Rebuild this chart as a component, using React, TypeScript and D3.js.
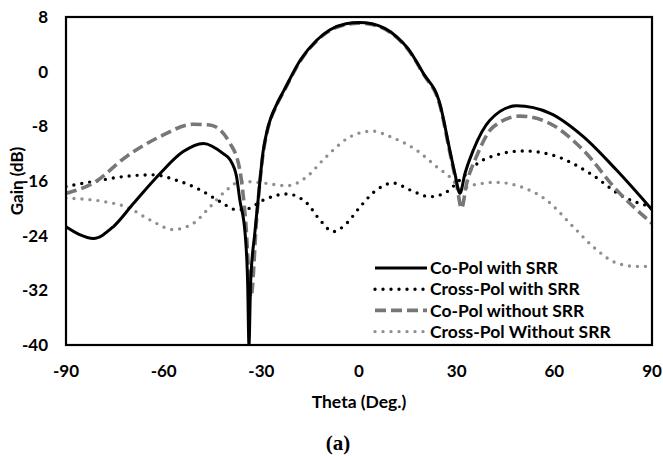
import React from 'react';
import * as d3 from 'd3';

// theta (deg) values
const coPolSrrTheta = [-90, -86, -81.6, -75.5, -69.3, -61.1, -54, -47.8, -41.7, -39.6, -37.6, -36.6, -35, -34.2, -33.8, -33.3, -32, -31, -29.4, -28.4, -25, -23, -18, -13, -9, -4, 0, 4, 11.6, 15, 19.7, 24.9, 27.9, 29.5, 31, 32.5, 35.1, 40.2, 48.4, 58.7, 68.9, 79.1, 90];
const coPolSrr = [-22.7, -23.8, -24.4, -22.7, -19.3, -14.9, -11.7, -10.5, -12, -12.9, -15.4, -18.8, -23.6, -31, -40, -31, -23.6, -18.8, -11.5, -9, -4.5, -2.7, 1.7, 4.6, 6.1, 7.0, 7.2, 7.0, 5.1, 3.4, -0.2, -4.8, -11.5, -15, -17.8, -15, -11.5, -7.1, -5.0, -6.1, -9.5, -14.4, -20.2];

const crossPolSrrTheta = [-90, -79.6, -71.4, -63.2, -56, -48.8, -42.7, -37.6, -34.5, -29.4, -22.2, -16.1, -12, -7.9, -3.8, 0.3, 5.4, 10.5, 15.6, 21.8, 26.9, 30, 32, 38.2, 50.5, 60.7, 71, 81.2, 90];
const crossPolSrr = [-16.8, -15.9, -15.3, -15.1, -15.9, -17.3, -19, -20.2, -20.1, -18.8, -17.9, -19.2, -21.7, -23.4, -22.2, -19.8, -17.3, -16.3, -17.3, -18.3, -17.6, -16.3, -15.4, -12.9, -11.6, -12.4, -14.9, -18.3, -19.8];

const coPolTheta = [-90, -81.6, -71.4, -61.1, -50.9, -45.8, -39.6, -36.6, -34.8, -33.2, -31.4, -29.4, -28.4, -25, -23, -18, -13, -9, -4, 0, 4, 11.6, 15, 19.7, 24.9, 27.9, 30, 31.5, 33, 36.1, 41.2, 49.4, 58.7, 68.9, 79.1, 90];
const coPol = [-17.8, -16.3, -12.4, -9.5, -7.7, -7.8, -10.5, -14.4, -22, -33, -21.2, -11.8, -9.2, -4.6, -2.8, 1.6, 4.5, 6.0, 6.9, 7.1, 6.9, 5.0, 3.3, -0.3, -5.0, -11.8, -16.5, -20, -16.5, -12.4, -8.1, -6.5, -7.6, -11.5, -17.3, -22.2];

const crossPolTheta = [-90, -78.5, -71.4, -64.2, -57.1, -50.9, -45.8, -40.6, -36.6, -34.5, -29.4, -22.2, -16.1, -11, -8, -3, 4, 10, 17.7, 23.8, 28.9, 31, 35, 42.3, 49.4, 57.6, 65.8, 71.9, 79.1, 85, 90];
const crossPol = [-18.5, -19, -19.8, -21.7, -23.1, -22.2, -19.8, -17.3, -16.1, -16.1, -16.3, -16.7, -15.4, -12.9, -11.5, -9.6, -8.7, -9.6, -11.5, -13.9, -15.9, -17.2, -16.6, -16.2, -16.8, -18.8, -22.7, -25.6, -28, -28.5, -28.5];

const xTicks = [-90, -60, -30, 0, 30, 60, 90];
const yTicks = [8, 0, -8, -16, -24, -32, -40];

const seriesNames = ['Co-Pol with SRR', 'Cross-Pol with SRR', 'Co-Pol without SRR', 'Cross-Pol Without SRR'];

const W = 663;
const H = 456;
const margin = { left: 66, top: 17, right: 11, bottom: 111 };
const font = 'Lato, "Open Sans", sans-serif';

export default function App() {
  const chartWidth = W - margin.left - margin.right;
  const chartHeight = H - margin.top - margin.bottom;

  const x = d3.scaleLinear().domain([-90, 90]).range([0, chartWidth]);
  const y = d3.scaleLinear().domain([-40, 8]).range([chartHeight, 0]);

  const line = d3.line<[number, number]>()
    .x(d => x(d[0]))
    .y(d => y(d[1]))
    .curve(d3.curveMonotoneX);

  const zip = (t: number[], v: number[]) => t.map((d, i) => [d, v[i]] as [number, number]);

  const styles = [
    { stroke: '#000', width: 3, dash: undefined as string | undefined, cap: 'butt' },
    { stroke: '#000', width: 3.4, dash: '0 8', cap: 'round' },
    { stroke: '#777', width: 3.6, dash: '11 5', cap: 'butt' },
    { stroke: '#8f8f8f', width: 3.4, dash: '0 8', cap: 'round' },
  ];

  const series = [
    zip(coPolSrrTheta, coPolSrr),
    zip(crossPolSrrTheta, crossPolSrr),
    zip(coPolTheta, coPol),
    zip(crossPolTheta, crossPol),
  ];

  // draw order: back to front
  const order = [3, 1, 2, 0];

  return (
    <svg width={W} height={H} style={{ position: 'absolute', left: 0, top: 0, background: '#fff' }}>
      <defs>
        <clipPath id="plot-clip">
          <rect x={0} y={0} width={chartWidth} height={chartHeight} />
        </clipPath>
      </defs>
      <g transform={`translate(${margin.left},${margin.top})`}>
        <g clipPath="url(#plot-clip)">
          {order.map(i => (
            <path key={i} d={line(series[i]) || ''} fill="none"
              stroke={styles[i].stroke} strokeWidth={styles[i].width}
              strokeDasharray={styles[i].dash} strokeLinecap={styles[i].cap as any} />
          ))}
        </g>
        <rect x={0} y={0} width={chartWidth} height={chartHeight} fill="none" stroke="#000" strokeWidth={2.2} />

        {yTicks.map(t => (
          <text key={t} x={-18} y={y(t)} dy="0.35em" textAnchor="end"
            fontFamily={font} fontWeight={700} fontSize={17} fill="#000">{t}</text>
        ))}
        {xTicks.map(t => (
          <text key={t} x={x(t)} y={chartHeight + 26} dy="0.35em" textAnchor="middle"
            fontFamily={font} fontWeight={700} fontSize={17} fill="#000">{t}</text>
        ))}

        <text x={359 - margin.left} y={402 - margin.top} dy="0.35em" textAnchor="middle"
          fontFamily={font} fontWeight={700} fontSize={17.5} fill="#000">Theta (Deg.)</text>
        <text transform={`translate(${17.5 - margin.left},${181 - margin.top}) rotate(-90)`} textAnchor="middle" dy="0.35em"
          fontFamily={font} fontWeight={700} fontSize={17} fill="#000">Gain (dB)</text>

        <g transform={`translate(${375 - margin.left},${268 - margin.top})`}>
          {seriesNames.map((name, i) => (
            <g key={name} transform={`translate(0,${i * 21.2})`}>
              <line x1={0} x2={52} y1={0} y2={0} stroke={styles[i].stroke}
                strokeWidth={styles[i].width} strokeDasharray={styles[i].dash}
                strokeLinecap={styles[i].cap as any} />
              <text x={55} y={0} dy="0.35em" fontFamily={font} fontWeight={700}
                fontSize={17.5} fill="#000">{name}</text>
            </g>
          ))}
        </g>
      </g>
      <text x={338} y={443} dy="0.35em" textAnchor="middle" fontFamily='"Liberation Serif", "Times New Roman", serif'
        fontWeight={700} fontSize={21} fill="#000">(a)</text>
    </svg>
  );
}
